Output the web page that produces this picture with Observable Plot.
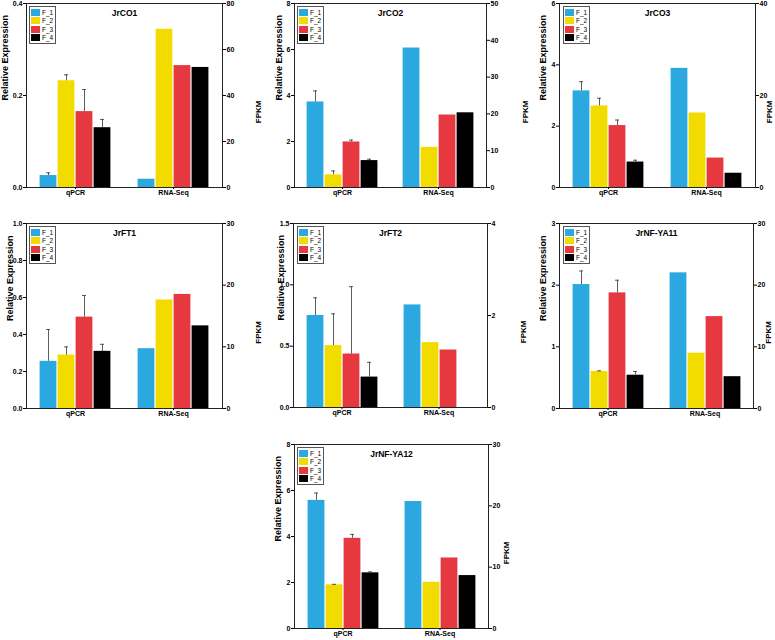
<!DOCTYPE html>
<html><head><meta charset="utf-8">
<script src="https://cdn.jsdelivr.net/npm/d3@7"></script>
<script src="https://cdn.jsdelivr.net/npm/@observablehq/plot@0.6"></script>
<style>
html,body{margin:0;padding:0;background:#fff;overflow:hidden;}
#wrap{position:relative;width:775px;height:640px;font-family:"Liberation Sans",Arial,sans-serif;overflow:hidden;}
.panel{position:absolute;}
.panel svg{max-width:none !important;}
.legend{position:absolute;border:1px solid #555;background:#fff;padding:1px 2px 1px 1px;font-size:6.5px;font-weight:normal;color:#000;}
.legend .row{display:flex;align-items:center;height:8.5px;}
.legend .sw{width:9px;height:7px;margin-right:2px;}
</style></head><body><div id="wrap"></div>
<script>
// ---- data ----
const groups = ["qPCR", "RNA-Seq"];
const series = ["F_1", "F_2", "F_3", "F_4"];
const colors = ["#2ba8e0", "#f2dc00", "#e6393f", "#000000"];
const genes = ["JrCO1", "JrCO2", "JrCO3", "JrFT1", "JrFT2", "JrNF-YA11", "JrNF-YA12"];

// qPCR relative expression (F_1..F_4) and error (upper)
const qpcrJrCO1 = [0.026, 0.232, 0.165, 0.130];
const errJrCO1  = [0.006, 0.013, 0.048, 0.018];
const qpcrJrCO2 = [3.72, 0.55, 1.98, 1.17];
const errJrCO2  = [0.48, 0.17, 0.08, 0.06];
const qpcrJrCO3 = [3.15, 2.66, 2.02, 0.83];
const errJrCO3  = [0.30, 0.25, 0.18, 0.06];
const qpcrJrFT1 = [0.255, 0.289, 0.494, 0.309];
const errJrFT1  = [0.172, 0.044, 0.117, 0.038];
const qpcrJrFT2 = [0.75, 0.505, 0.436, 0.248];
const errJrFT2  = [0.144, 0.259, 0.549, 0.12];
const qpcrJrNFYA11 = [2.01, 0.60, 1.875, 0.54];
const errJrNFYA11  = [0.22, 0.01, 0.205, 0.06];
const qpcrJrNFYA12 = [5.57, 1.90, 3.92, 2.42];
const errJrNFYA12  = [0.32, 0.02, 0.17, 0.04];

// RNA-Seq FPKM (F_1..F_4)
const fpkmJrCO1 = [3.6, 68.8, 53.0, 52.2];
const fpkmJrCO2 = [37.9, 10.9, 19.7, 20.3];
const fpkmJrCO3 = [25.9, 16.2, 6.4, 3.1];
const fpkmJrFT1 = [9.7, 17.6, 18.5, 13.4];
const fpkmJrFT2 = [2.23, 1.41, 1.25, 0];
const fpkmJrNFYA11 = [22.0, 8.97, 14.9, 5.16];
const fpkmJrNFYA12 = [20.7, 7.54, 11.5, 8.63];

// axis ticks
const leftTicks = [
  [0, 0.2, 0.4], [0, 2, 4, 6, 8], [0, 2, 4, 6], [0, 0.2, 0.4, 0.6, 0.8, 1.0],
  [0, 0.5, 1.0, 1.5], [0, 1, 2, 3], [0, 2, 4, 6, 8]
];
const leftFormats = [".1f", "d", "d", ".1f", ".1f", "d", "d"];
const rightTicks = [
  [0, 20, 40, 60, 80], [0, 10, 20, 30, 40, 50], [0, 20, 40], [0, 10, 20, 30],
  [0, 2, 4], [0, 10, 20, 30], [0, 10, 20, 30]
];
const leftLabel = "Relative Expression";
const rightLabel = "FPKM";

const qpcr = [qpcrJrCO1, qpcrJrCO2, qpcrJrCO3, qpcrJrFT1, qpcrJrFT2, qpcrJrNFYA11, qpcrJrNFYA12];
const errs = [errJrCO1, errJrCO2, errJrCO3, errJrFT1, errJrFT2, errJrNFYA11, errJrNFYA12];
const fpkm = [fpkmJrCO1, fpkmJrCO2, fpkmJrCO3, fpkmJrFT1, fpkmJrFT2, fpkmJrNFYA11, fpkmJrNFYA12];

// ---- layout: frame left, frame top, frame width, frame height, left-label offset, right-label offset ----
const layout = [
  [25, 3, 197, 184, 21, 36],
  [293, 3, 193, 184, 15, 39],
  [559, 3, 196, 184, 16, 14],
  [25, 223, 197, 185, 16, 36],
  [293, 223, 194, 184, 12, 36],
  [559, 223, 194, 185, 16, 15],
  [293, 444, 195, 184, 16, 18]
];

const wrap = document.getElementById("wrap");
const ml = 30, mr = 46, mt = 6, mb = 16;

genes.forEach((gene, i) => {
  const [fl, ft, fw, fh, lo, ro] = layout[i];
  const lmax = d3.max(leftTicks[i]);
  const rmax = d3.max(rightTicks[i]);
  const k = lmax / rmax;
  const rows = [];
  series.forEach((s, j) => {
    rows.push({group: "qPCR", series: s, value: qpcr[i][j], hi: qpcr[i][j] + errs[i][j]});
  });
  series.forEach((s, j) => {
    rows.push({group: "RNA-Seq", series: s, value: fpkm[i][j] * k});
  });
  const q = rows.filter(d => d.group === "qPCR");
  const W = ml + fw + mr, H = mt + fh + mb;

  const plot = Plot.plot({
    width: W, height: H,
    marginLeft: ml, marginRight: mr, marginTop: mt, marginBottom: mb,
    style: {background: "transparent", fontFamily: "'Liberation Sans', Arial, sans-serif", fontSize: "7px", fontWeight: "bold", overflow: "visible", color: "#000", maxWidth: "none"},
    fx: {domain: groups, padding: 0, label: null},
    x: {domain: series, paddingInner: 0, paddingOuter: 0.627, axis: null},
    y: {domain: [0, lmax]},
    color: {domain: series, range: colors},
    marks: [
      Plot.barY(rows, {fx: "group", x: "series", y: "value", fill: "series", insetLeft: 0.6, insetRight: 0.6}),
      Plot.ruleX(q, {fx: "group", x: "series", y1: "value", y2: "hi", stroke: "#333", strokeWidth: 0.8}),
      Plot.tickY(q, {fx: "group", x: "series", y: "hi", stroke: "#333", strokeWidth: 0.8, inset: 7}),
      Plot.ruleY([{v: lmax}], {y: "v", stroke: "#222", strokeWidth: 1}),
      Plot.ruleY([{v: 0}], {y: "v", stroke: "#222", strokeWidth: 1}),
      Plot.frame({anchor: "left", facetAnchor: "left", stroke: "#222"}),
      Plot.frame({anchor: "right", facetAnchor: "right", stroke: "#222"}),
      Plot.axisY(leftTicks[i], {anchor: "left", tickSize: 3, tickPadding: 1, tickFormat: d3.format(leftFormats[i]), label: null}),
      Plot.axisY(rightTicks[i].map(v => v * k), {anchor: "right", tickSize: 3, tickPadding: 1, tickFormat: d => String(Math.round(d / k)), label: null}),
      Plot.axisFx({anchor: "bottom", tickSize: 2, tickPadding: 1, label: null}),
      Plot.text([gene], {frameAnchor: "top-right", facetAnchor: "left", textAnchor: "middle", dy: 6, fontSize: 8.5, fontWeight: "bold"}),
      Plot.text([leftLabel], {frameAnchor: "left", facetAnchor: "left", rotate: -90, dx: -lo, dy: 5, fontSize: 9, fontWeight: "bold"}),
      Plot.text([rightLabel], {frameAnchor: "right", facetAnchor: "right", rotate: -90, dx: ro, dy: 5, fontSize: 8, fontWeight: "bold"})
    ]
  });

  const div = document.createElement("div");
  div.className = "panel";
  div.style.left = (fl - ml) + "px";
  div.style.top = (ft - mt) + "px";
  div.style.width = W + "px";
  div.style.height = H + "px";
  div.appendChild(plot);

  const lg = document.createElement("div");
  lg.className = "legend";
  lg.style.left = (ml + 4) + "px";
  lg.style.top = (mt + 3) + "px";
  series.forEach((s, j) => {
    const r = document.createElement("div");
    r.className = "row";
    const sw = document.createElement("span");
    sw.className = "sw";
    sw.style.background = colors[j];
    const t = document.createElement("span");
    t.textContent = s;
    r.appendChild(sw); r.appendChild(t);
    lg.appendChild(r);
  });
  div.appendChild(lg);
  wrap.appendChild(div);
});
</script></body></html>
